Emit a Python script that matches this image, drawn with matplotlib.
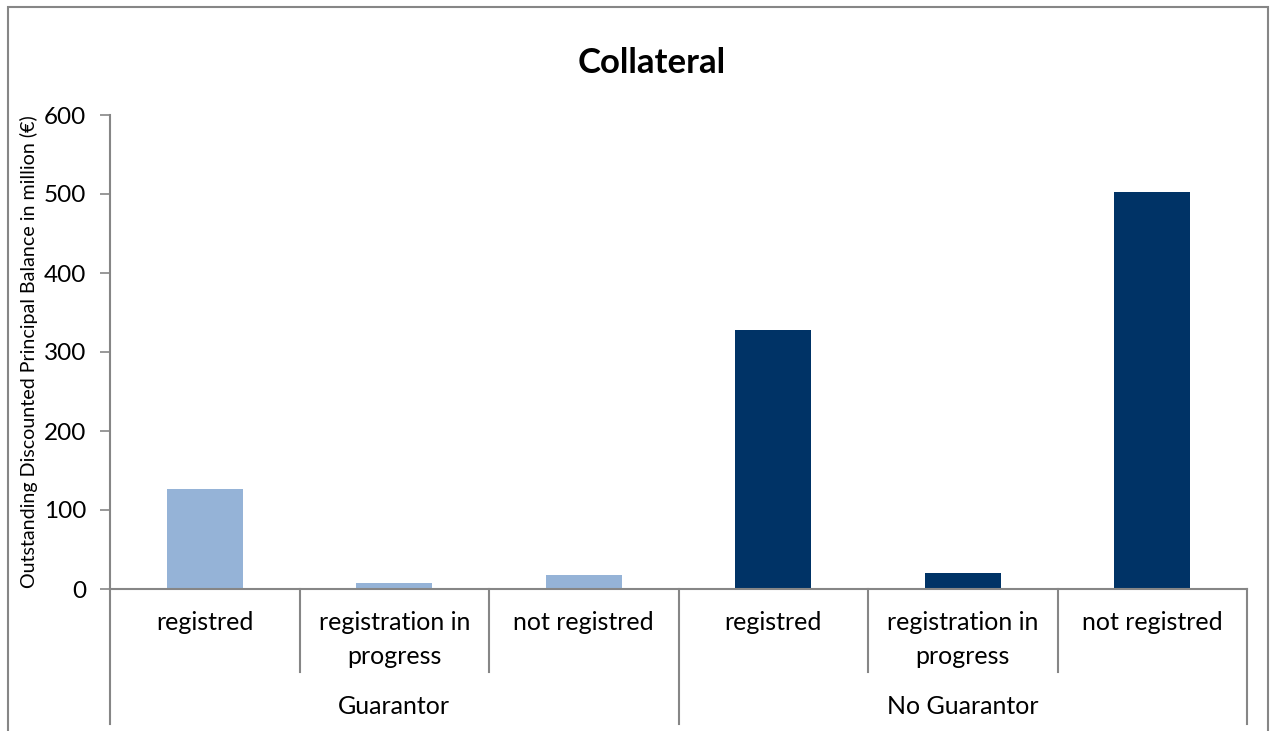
import matplotlib
matplotlib.use("Agg")
import matplotlib.pyplot as plt
from matplotlib.patches import Rectangle
from matplotlib.transforms import blended_transform_factory

# Data
groups = ["Guarantor", "No Guarantor"]
subcats = ["registred", "registration in\nprogress", "not registred"]
guarantor_vals = [126, 7.5, 18]
no_guarantor_vals = [328, 20, 502]
group_colors = ["#95B3D7", "#003366"]
yticks = [0, 100, 200, 300, 400, 500, 600]
title = "Collateral"
ylabel = "Outstanding Discounted Principal Balance in million (€)"

plt.rcParams['font.family'] = ['Lato', 'DejaVu Sans']

W, H = 1270, 731
fig = plt.figure(figsize=(W / 100, H / 100), dpi=100)
ax = fig.add_axes([110 / W, 1 - 589 / H, (1247 - 110) / W, (589 - 115) / H])

grey = "#868686"
values = [guarantor_vals, no_guarantor_vals]
n = len(subcats)
for g, vals in enumerate(values):
    xs = [g * n + i for i in range(n)]
    ax.bar(xs, vals, width=0.4, color=group_colors[g])

ax.set_xlim(-0.5, len(groups) * n - 0.5)
ax.set_ylim(0, 600)
ax.set_yticks(yticks)
ax.set_yticklabels([str(t) for t in yticks], fontsize=17.5)
ax.tick_params(axis='y', length=7, width=1.2, color=grey, direction='out', pad=10)
ax.set_xticks([])
for s in ["top", "right"]:
    ax.spines[s].set_visible(False)
for s in ["left", "bottom"]:
    ax.spines[s].set_color(grey)
    ax.spines[s].set_linewidth(1.5)

ax.yaxis.set_label_coords(-81 / (1247 - 110), 0.5)
ax.set_ylabel(ylabel, fontsize=14.1, va='center')

trans = blended_transform_factory(ax.transData, ax.transAxes)
px = 1.0 / ((589 - 115))  # axes fraction per pixel
# divider lines
for k in range(len(groups) * n + 1):
    x = k - 0.5
    if k % n == 0:
        y_end = -(724 - 589) * px
    else:
        y_end = -(672 - 589) * px
    ax.plot([x, x], [0, y_end], transform=trans, color=grey, lw=1.5, clip_on=False)

# labels
for g in range(len(groups)):
    for i, lab in enumerate(subcats):
        ax.text(g * n + i, -(623 - 589) * px, lab.split("\n")[0], transform=trans, ha='center',
                va='center', fontsize=18)
        if "\n" in lab:
            ax.text(g * n + i, -(657 - 589) * px, lab.split("\n")[1], transform=trans,
                    ha='center', va='center', fontsize=18)
    ax.text(g * n + (n - 1) / 2, -(706 - 589) * px, groups[g], transform=trans,
            ha='center', va='center', fontsize=18)

fig.text(652 / W, 1 - 63 / H, title, ha='center', va='center', fontsize=25, fontweight='bold')

# outer border
fig.patches.append(Rectangle((8 / W, -0.1), (1268 - 8) / W, 1.1 - 7 / H, transform=fig.transFigure,
                             fill=False, edgecolor=grey, lw=1.5))

fig.savefig("out.png", dpi=100)
